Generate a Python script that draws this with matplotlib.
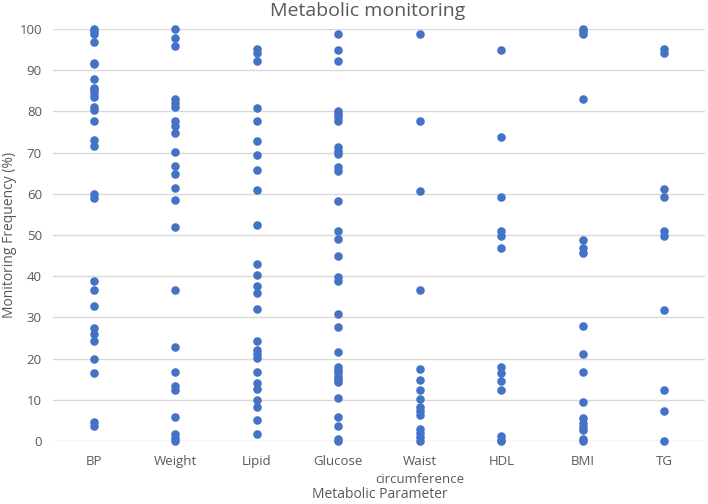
import matplotlib
matplotlib.use("Agg")
from matplotlib import pyplot as plt

categories = ["BP", "Weight", "Lipid", "Glucose", "Waist\ncircumference", "HDL", "BMI", "TG"]

bp = [100, 99.4, 98.8, 96.9, 91.7, 91.5, 87.9, 85.7, 85.1, 84.5, 83.6, 81, 80.3, 77.7,
      73, 71.6, 60, 58.9, 38.8, 36.7, 32.8, 27.5, 26, 24.3, 19.8, 16.6, 4.7, 3.7]
weight = [100, 97.7, 95.9, 82.9, 82.1, 81, 77.7, 76.5, 74.8, 70.1, 66.8, 64.8, 61.3, 58.5,
          51.9, 36.7, 22.7, 16.8, 13.3, 12.4, 5.8, 1.7, 0.8, 0]
lipid = [95.1, 94.1, 92.3, 80.9, 77.7, 72.9, 69.5, 65.8, 60.9, 52.4, 42.9, 40.4, 37.5, 35.9,
         32, 24.3, 22.1, 21, 20.1, 16.8, 14, 12.5, 10, 8.3, 5.1, 1.7]
glucose = [98.9, 94.9, 92.3, 80.2, 79.4, 78.7, 77.7, 71.3, 70.5, 69.7, 66.6, 65.6, 58.2,
           51, 49, 44.9, 39.7, 38.9, 30.8, 27.7, 21.5, 18, 17.2, 16.4, 15.6, 14.8, 14.2,
           10.4, 5.9, 3.7, 0.4, 0]
waist = [98.9, 77.7, 60.7, 36.7, 17.4, 14.8, 12.4, 10.1, 8.3, 7.4, 6.3, 2.8, 1.9, 0.9, 0]
hdl = [94.9, 73.9, 59.1, 51, 49.8, 46.8, 18, 16.6, 14.6, 12.4, 1.2, 0.2, 0]
bmi = [100, 99.4, 98.7, 82.9, 48.8, 46.8, 45.6, 27.9, 21.1, 16.8, 9.5, 5.5, 4.3, 3.5,
       2.7, 0.4, 0]
tg = [95.1, 94.1, 61.1, 59.1, 51, 49.8, 31.8, 12.4, 7.3, 0]

series = [bp, weight, lipid, glucose, waist, hdl, bmi, tg]

blue = "#4472C4"
grey_text = "#595959"
plt.rcParams["font.family"] = ["Open Sans", "DejaVu Sans"]

fig = plt.figure(figsize=(7.08, 5.04), dpi=100)
ax = fig.add_axes([0.0749, 0.125, 0.9211, 0.8175])

for i, vals in enumerate(series):
    ax.scatter([i + 1] * len(vals), vals, s=38, color=blue, zorder=3, linewidths=0,
               clip_on=False)

ax.set_xlim(0.5, 8.5)
ax.set_ylim(0, 100)
ax.set_yticks(range(0, 101, 10))
ax.set_xticks(range(1, len(categories) + 1))
ax.set_xticklabels(categories, color=grey_text, fontsize=9.5, linespacing=1.5)
ax.tick_params(axis="y", colors=grey_text, labelsize=9.5, length=0, pad=8)
ax.tick_params(axis="x", length=0, pad=10)
ax.yaxis.grid(True, color="#D9D9D9", linewidth=1)
ax.set_axisbelow(True)
for s in ax.spines.values():
    s.set_visible(False)

fig.text(368 / 708, 1 - 11 / 504, "Metabolic monitoring", ha="center", va="center",
         fontsize=14, color=grey_text)
fig.text(380 / 708, 1 - 495 / 504, "Metabolic Parameter", ha="center", va="center",
         fontsize=10, color=grey_text)
fig.text(10 / 708, 1 - 235 / 504, "Monitoring Frequency (%)", ha="center", va="center",
         rotation=90, fontsize=10, color=grey_text)

fig.savefig("out.png", dpi=100)
